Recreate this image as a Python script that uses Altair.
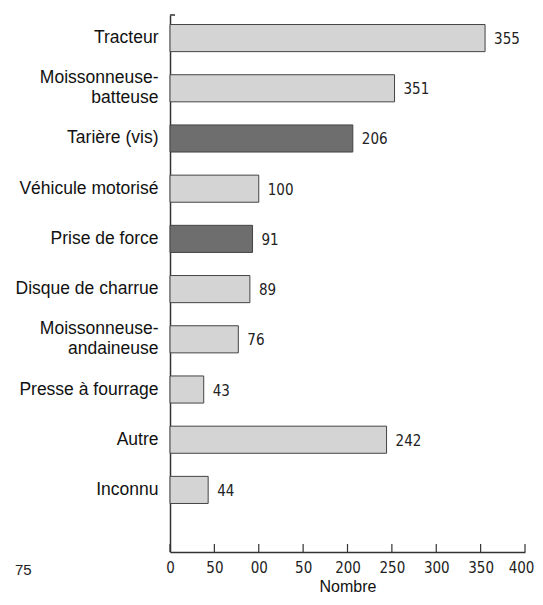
import altair as alt
import pandas as pd

categories = ["Tracteur", "Moissonneuse-batteuse", "Tarière (vis)", "Véhicule motorisé",
              "Prise de force", "Disque de charrue", "Moissonneuse-andaineuse",
              "Presse à fourrage", "Autre", "Inconnu"]
value_labels = [355, 351, 206, 100, 91, 89, 76, 43, 242, 44]
# bar lengths as drawn in the picture (the 351 bar is drawn shorter in the original)
bar_lengths = [355, 253, 206, 100, 93, 90, 77, 38, 244, 43]
shades = ["light", "light", "dark", "light", "dark", "light", "light", "light", "light", "light"]
tick_values = [0, 50, 100, 150, 200, 250, 300, 350, 400]
tick_labels = ["0", "50", "00", "50", "200", "250", "300", "350", "400"]
stray_text = ["75"]

df = pd.DataFrame({"cat": categories, "len": bar_lengths, "lab": value_labels, "shade": shades})
ticks_df = pd.DataFrame({"v": tick_values, "t": tick_labels})

W, H = 355, 537
NARROW = "Liberation Sans Narrow, DejaVu Sans Condensed"

xexpr = "datum.label"
for v, t in zip(tick_values, tick_labels):
    xexpr = f"datum.value == {v} ? '{t}' : (" + xexpr + ")"

yexpr = ("indexof(datum.value, '-') > 0 ? [slice(datum.value, 0, indexof(datum.value, '-') + 1), "
         "slice(datum.value, indexof(datum.value, '-') + 1)] : datum.value")

yscale = alt.Scale(domain=categories, paddingInner=0.46, paddingOuter=0.578, align=0.164)
xscale = alt.Scale(domain=[0, 400], nice=False)

base = alt.Chart(df)

bars = base.mark_bar(stroke="#444", strokeWidth=1).encode(
    y=alt.Y("cat:N", sort=categories, scale=yscale,
            axis=alt.Axis(title=None, ticks=False, domainColor="#333", domainWidth=1.5,
                          labelFont="Liberation Sans", labelFontSize=17.5, labelColor="#111",
                          labelPadding=12, labelLimit=0, labelLineHeight=20, labelExpr=yexpr,
                          labelOffset={"condition": {"test": "indexof(datum.value, '-') > 0",
                                                     "value": -10},
                                       "value": 0})),
    x=alt.X("len:Q", scale=xscale,
            axis=alt.Axis(values=tick_values, ticks=False, grid=False, title="Nombre",
                          titleFont="Liberation Sans", titleFontSize=16, titleFontWeight="normal",
                          titleColor="#111", titlePadding=3,
                          labelFont=NARROW, labelFontSize=15, labelColor="#222",
                          labelPadding=8, labelExpr=xexpr, labelFlush=False,
                          labelOffset={"condition": {"test": "datum.value == 400", "value": -4},
                                       "value": 0},
                          domainColor="#333", domainWidth=1.5)),
    color=alt.Color("shade:N", scale=alt.Scale(domain=["light", "dark"], range=["#d4d4d4", "#6e6e6e"]),
                    legend=None),
)

texts = base.mark_text(align="left", baseline="middle", dx=9, dy=1,
                       font=NARROW, fontSize=15, color="#222").encode(
    y=alt.Y("cat:N", sort=categories, scale=yscale),
    x=alt.X("len:Q", scale=xscale),
    text=alt.Text("lab:Q"),
)

tick_rules = alt.Chart(ticks_df).mark_rule(color="#333", strokeWidth=1.2).encode(
    x=alt.X("v:Q", scale=xscale), y=alt.value(H), y2=alt.value(H - 8)
)

top_tick = alt.Chart(pd.DataFrame({"a": [0]})).mark_rule(color="#333", strokeWidth=1.5).encode(
    x=alt.value(0), x2=alt.value(5), y=alt.value(0)
)

stray = alt.Chart(pd.DataFrame({"t": stray_text})).mark_text(
    align="left", baseline="middle", font="Liberation Sans", fontSize=15, color="#222"
).encode(x=alt.value(-155), y=alt.value(H + 18), text="t:N")

chart = alt.layer(bars, texts, tick_rules, top_tick, stray).properties(
    width=W, height=H,
    autosize=alt.AutoSizeParams(type="none"),
    padding={"top": 7, "left": 162, "right": 10, "bottom": 45}
).configure_view(stroke=None)

chart.save("out.html", embed_options={"renderer": "svg", "actions": False})
